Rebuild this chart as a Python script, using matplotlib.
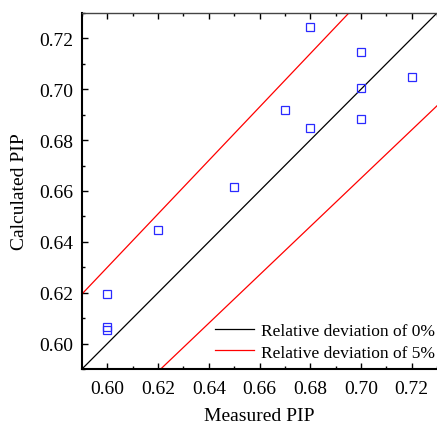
import numpy as np
import matplotlib
matplotlib.use("Agg")
import matplotlib.pyplot as plt
from matplotlib.ticker import MultipleLocator

plt.rcParams['font.family'] = ['Liberation Serif', 'DejaVu Serif']
plt.rcParams['mathtext.fontset'] = 'stix'

# Measured vs calculated PIP
measured = [0.60, 0.60, 0.60, 0.62, 0.65, 0.67, 0.68, 0.68, 0.70, 0.70, 0.70, 0.72]
calculated = [0.6195, 0.6067, 0.6054, 0.6445, 0.6614, 0.6919, 0.7246, 0.6848,
              0.7147, 0.7004, 0.6883, 0.7049]

deviation = 0.05
x_range = [0.59, 0.73]
x_ticks = [0.60, 0.62, 0.64, 0.66, 0.68, 0.70, 0.72]

fig = plt.figure(figsize=(4.37, 4.27), dpi=100)
ax = fig.add_axes([82 / 437, 1 - 370 / 427, (437 - 82) / 437, (370 - 14) / 427])

xs = np.array(x_range)
ax.plot(xs, xs, color='black', lw=0.9, label='Relative deviation of 0%')
ax.plot(xs, xs * (1 + deviation), color='red', lw=0.9, label='Relative deviation of 5%')
ax.plot(xs, xs * (1 - deviation), color='red', lw=0.9)

ax.plot(measured, calculated, linestyle='none', marker='s', markersize=5.3,
        markerfacecolor='none', markeredgecolor='#2a2aff', markeredgewidth=0.9)

ax.set_xlim(*x_range)
ax.set_ylim(*x_range)
ax.set_xticks(x_ticks)
ax.set_yticks(x_ticks)
ax.xaxis.set_minor_locator(MultipleLocator(0.01))
ax.yaxis.set_minor_locator(MultipleLocator(0.01))
ax.set_xticklabels([f'{v:.2f}' for v in x_ticks])
ax.set_yticklabels([f'{v:.2f}' for v in x_ticks])

ax.tick_params(which='both', direction='in', top=True, right=False, labelsize=14)
ax.tick_params(which='major', length=4.5, width=1)
ax.tick_params(which='minor', length=2.5, width=1)
ax.tick_params(axis='x', pad=8)
ax.tick_params(axis='y', pad=6)

ax.spines['left'].set_linewidth(1.5)
ax.spines['bottom'].set_linewidth(1.5)
ax.spines['top'].set_linewidth(1.0)
ax.spines['top'].set_color('#444444')
ax.spines['right'].set_visible(False)

ax.set_xlabel('Measured PIP', fontsize=14, labelpad=7)
ax.set_ylabel('Calculated PIP', fontsize=14, labelpad=8)

leg = ax.legend(loc='lower right', frameon=False, fontsize=12.5, handlelength=2.2,
                handletextpad=0.4, labelspacing=0.3, borderaxespad=0.15,
                bbox_to_anchor=(1.02, -0.003))

fig.savefig('out.png', dpi=100)
